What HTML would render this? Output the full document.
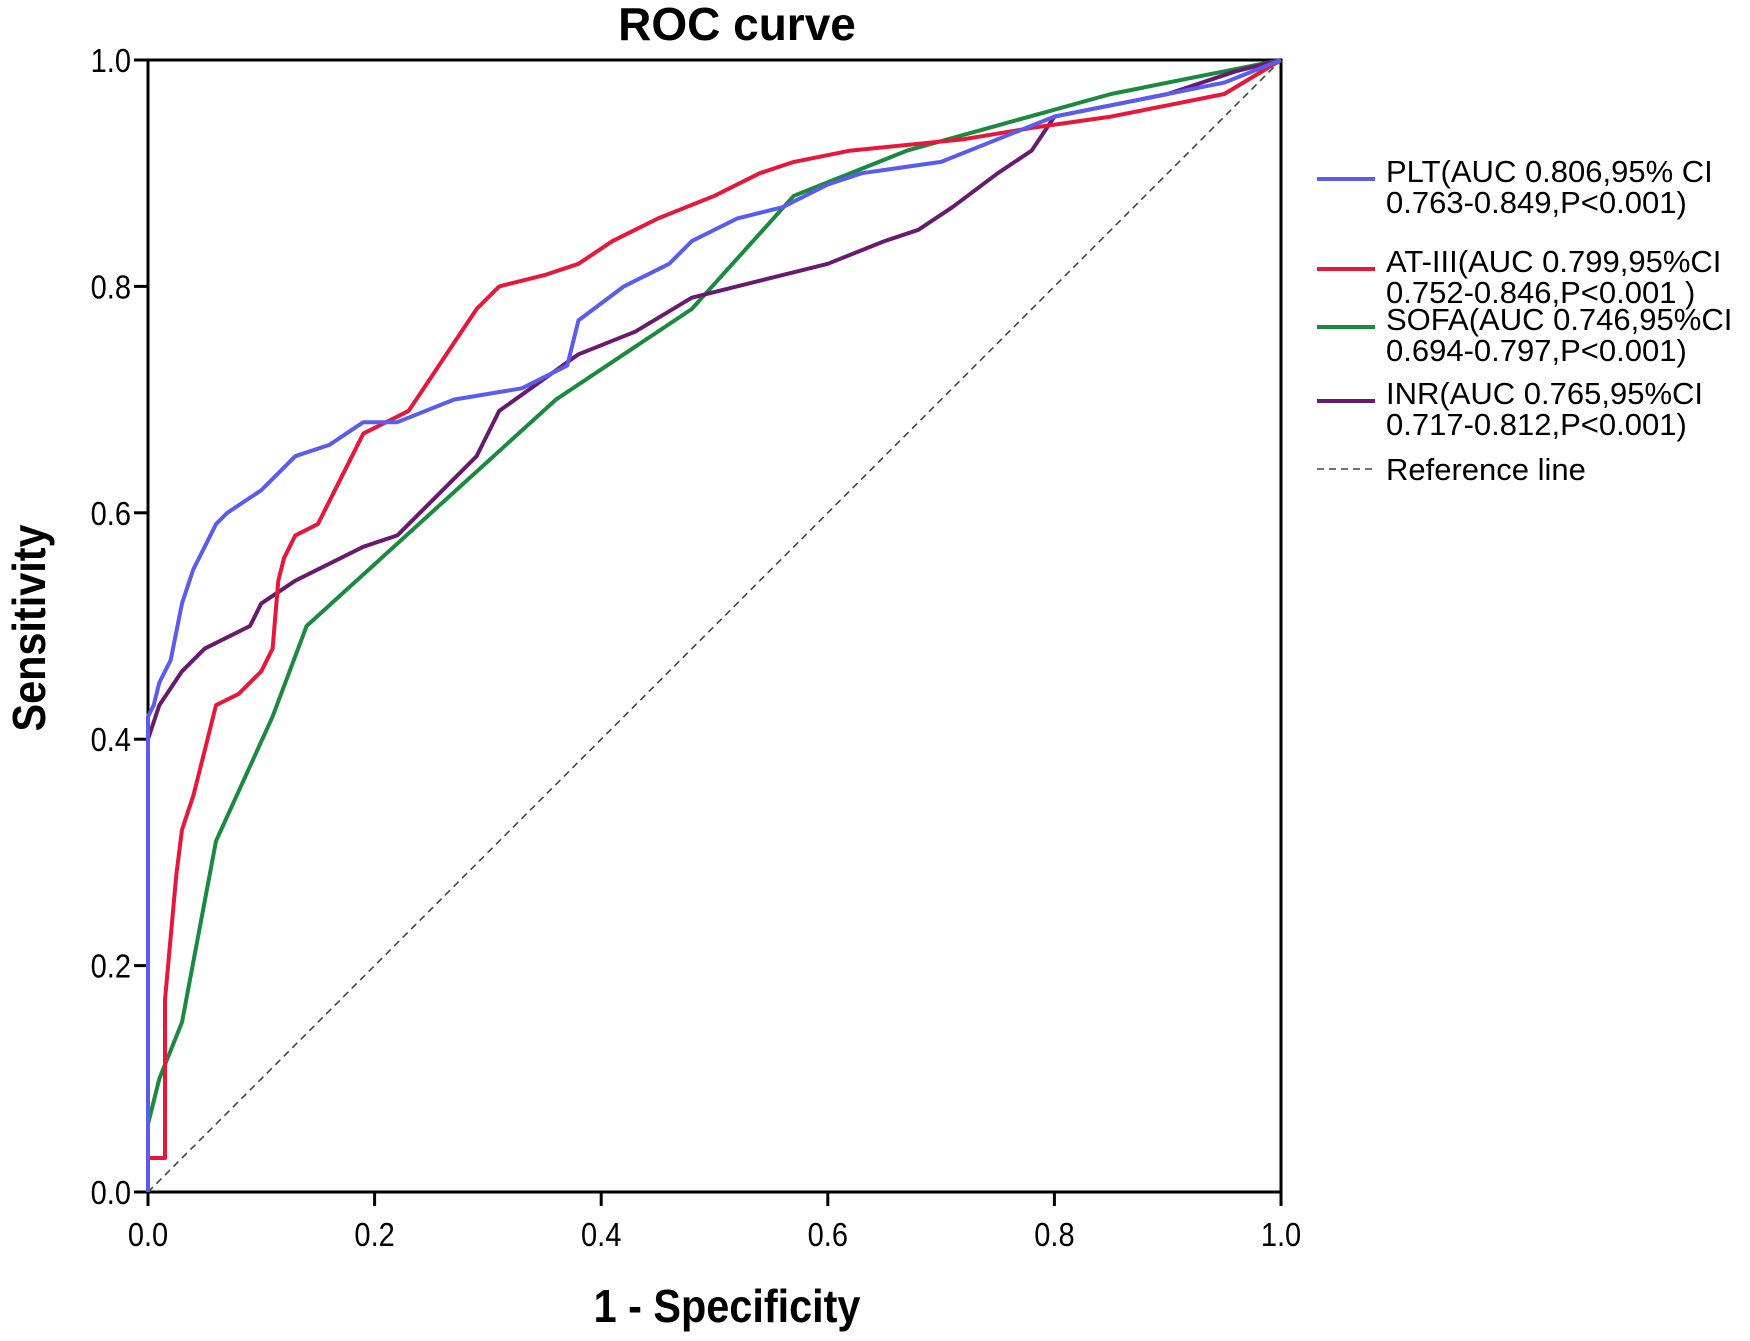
<!DOCTYPE html>
<html><head><meta charset="utf-8"><style>
body{margin:0;background:#fff;}
svg{display:block;font-family:"Liberation Sans",Arial,sans-serif;}
</style></head><body>
<svg id="chart" width="1750" height="1341" viewBox="0 0 1750 1341">
<text x="737" y="40" font-size="46" font-weight="bold" text-anchor="middle">ROC curve</text>
<g id="plot"></g>
<text x="0" y="0" font-size="46" font-weight="bold" text-anchor="middle" transform="translate(727,1322) scale(0.9,1)">1 - Specificity</text>
<text x="0" y="0" font-size="46" font-weight="bold" text-anchor="middle" transform="translate(45,628) rotate(-90) scale(0.9,1)">Sensitivity</text>
<g id="legend"></g>
</svg>
<script>
const ticks=[0,0.2,0.4,0.6,0.8,1.0];
const tickLabels=["0.0","0.2","0.4","0.6","0.8","1.0"];
const pltX=[0,0,0.005,0.01,0.02,0.03,0.04,0.05,0.06,0.07,0.1,0.13,0.16,0.19,0.22,0.27,0.33,0.37,0.38,0.42,0.46,0.48,0.52,0.56,0.6,0.63,0.7,0.75,0.8,0.9,0.95,1];
const pltY=[0,0.42,0.43,0.45,0.47,0.52,0.55,0.57,0.59,0.60,0.62,0.65,0.66,0.68,0.68,0.70,0.71,0.73,0.77,0.80,0.82,0.84,0.86,0.87,0.89,0.90,0.91,0.93,0.95,0.97,0.98,1];
const atX=[0,0.015,0.015,0.025,0.03,0.04,0.05,0.06,0.08,0.1,0.11,0.115,0.12,0.13,0.15,0.17,0.19,0.23,0.25,0.27,0.29,0.31,0.35,0.38,0.41,0.45,0.5,0.54,0.57,0.62,0.72,0.78,0.85,0.9,0.95,1];
const atY=[0.03,0.03,0.17,0.28,0.32,0.35,0.39,0.43,0.44,0.46,0.48,0.54,0.56,0.58,0.59,0.63,0.67,0.69,0.72,0.75,0.78,0.80,0.81,0.82,0.84,0.86,0.88,0.90,0.91,0.92,0.93,0.94,0.95,0.96,0.97,1];
const sofaX=[0,0.01,0.03,0.06,0.11,0.14,0.36,0.48,0.57,0.67,0.85,1];
const sofaY=[0.06,0.1,0.15,0.31,0.42,0.50,0.70,0.78,0.88,0.92,0.97,1];
const inrX=[0,0,0.01,0.03,0.05,0.07,0.09,0.1,0.13,0.19,0.22,0.26,0.29,0.31,0.38,0.43,0.48,0.56,0.6,0.65,0.68,0.71,0.75,0.78,0.8,0.9,0.96,1];
const inrY=[0,0.40,0.43,0.46,0.48,0.49,0.50,0.52,0.54,0.57,0.58,0.62,0.65,0.69,0.74,0.76,0.79,0.81,0.82,0.84,0.85,0.87,0.90,0.92,0.95,0.97,0.99,1];
const legendLabels=[["PLT(AUC 0.806,95% CI","0.763-0.849,P<0.001)"],["AT-III(AUC 0.799,95%CI","0.752-0.846,P<0.001 )"],["SOFA(AUC 0.746,95%CI","0.694-0.797,P<0.001)"],["INR(AUC 0.765,95%CI","0.717-0.812,P<0.001)"]];
const NS="http://www.w3.org/2000/svg";
const X0=148,X1=1281,Y0=1192,Y1=60;
const sx=v=>X0+v*(X1-X0), sy=v=>Y0-v*(Y0-Y1);
const plot=document.getElementById('plot');
function mk(tag,attrs,parent){const e=document.createElementNS(NS,tag);for(const k in attrs)e.setAttribute(k,attrs[k]);parent.appendChild(e);return e;}
let fr=mk('rect',{x:X0,y:Y1,width:X1-X0,height:Y0-Y1,fill:'none',stroke:'#000','stroke-width':3},plot);


ticks.forEach((t,i)=>{
 let a=mk('line',{x1:sx(t),x2:sx(t),y1:Y0,y2:Y0+14,stroke:'#000','stroke-width':3},plot);
 
 
 let b=mk('text',{x:0,y:0,'font-size':33,'text-anchor':'middle',transform:`translate(${sx(t)},${Y0+54}) scale(0.88,1)`},plot);b.textContent=tickLabels[i];
 
 
 let c=mk('line',{x1:X0-14,x2:X0,y1:sy(t),y2:sy(t),stroke:'#000','stroke-width':3},plot);
 
 
 let d=mk('text',{x:0,y:0,'font-size':33,'text-anchor':'end',transform:`translate(${X0-17},${sy(t)+12}) scale(0.88,1)`},plot);d.textContent=tickLabels[i];
 
 
});
let ref=mk('line',{x1:sx(0),y1:sy(0),x2:sx(1),y2:sy(1),stroke:'#444','stroke-width':1.6,'stroke-dasharray':'7,5'},plot);


const series=[[sofaX,sofaY,'#1a8a3e','sofa-curve'],[inrX,inrY,'#6a1a6e','inr-curve'],[atX,atY,'#e8173a','at-iii-curve'],[pltX,pltY,'#5a5cf0','plt-curve']];
series.forEach(s=>{
 const pts=s[0].map((x,i)=>sx(x).toFixed(1)+','+sy(s[1][i]).toFixed(1)).join(' ');
 let p=mk('polyline',{points:pts,fill:'none',stroke:s[2],'stroke-width':4,'stroke-linejoin':'round'},plot);
 
 
});
const lg=document.getElementById('legend');
const lcol=['#5a5cf0','#e8173a','#1a8a3e','#6a1a6e'];
const rowY=[171,261,319,393];
legendLabels.forEach((l,i)=>{
 let ln=mk('line',{x1:1317,x2:1375,y1:rowY[i]+8,y2:rowY[i]+8,stroke:lcol[i],'stroke-width':4},lg);
 
 
 l.forEach((t,j)=>{let tx=mk('text',{x:1386,y:rowY[i]+11+j*31,'font-size':31},lg);tx.textContent=t;
 
 });
});
let rl=mk('line',{x1:1317,x2:1375,y1:469,y2:469,stroke:'#444','stroke-width':1.6,'stroke-dasharray':'7,5'},lg);


let rt=mk('text',{x:1386,y:480,'font-size':31},lg);rt.textContent='Reference line';


</script>
</body></html>
